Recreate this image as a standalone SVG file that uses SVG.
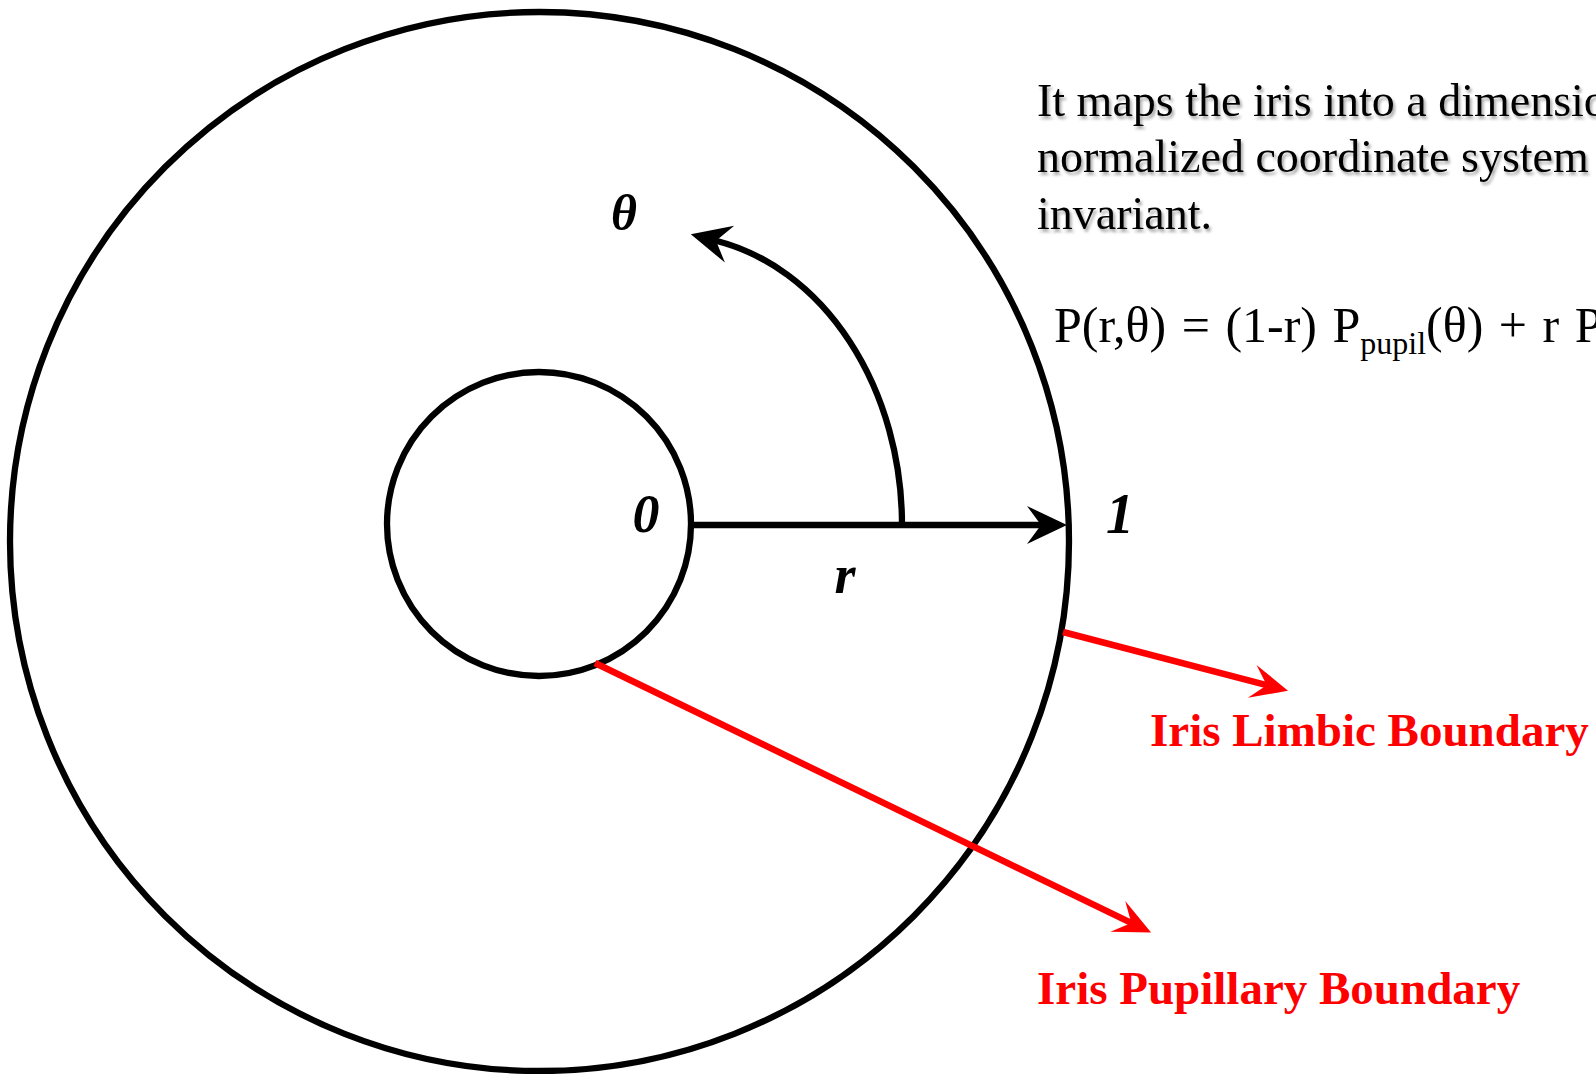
<svg xmlns="http://www.w3.org/2000/svg" width="1596" height="1074" viewBox="0 0 1596 1074">
<style>
.ring{fill:none;stroke:#000;stroke-width:6.3}
.blk{fill:none;stroke:#000;stroke-width:6.3}
.red{fill:none;stroke:#ff0000;stroke-width:6.5}
.lab{font-family:"Liberation Serif","Times New Roman",serif;font-style:italic;font-weight:bold;fill:#000;text-anchor:middle}
.desc{font-family:"Liberation Serif","Times New Roman",serif;font-size:46px;fill:#000}
.eq{font-family:"Liberation Serif","Times New Roman",serif;font-size:50px;fill:#000;word-spacing:3px}
.rl{font-family:"Liberation Serif","Times New Roman",serif;font-weight:bold;font-size:47px;fill:#ff0000}
</style>
<defs>
<marker id="ahB" viewBox="-42 -21 44 42" markerUnits="userSpaceOnUse" markerWidth="44" markerHeight="42" refX="-26" refY="0" orient="auto">
<path d="M0,0 L-40,-19 L-26,0 L-40,19 Z" fill="#000"/>
</marker>
<marker id="ahR" viewBox="-40 -20 42 40" markerUnits="userSpaceOnUse" markerWidth="42" markerHeight="40" refX="-21" refY="0" orient="auto">
<path d="M0,0 L-37,-17 L-22,0 L-37,17 Z" fill="#ff0000"/>
</marker>
<filter id="sh" x="-5%" y="-20%" width="110%" height="160%">
<feDropShadow dx="2" dy="3" stdDeviation="1.5" flood-color="#000" flood-opacity="0.35"/>
</filter>
</defs>
<rect width="1596" height="1074" fill="#fff"/>
<g id="outer-circle"><circle class="ring" cx="539.5" cy="541.5" r="529.5"/></g>
<g id="inner-circle"><circle class="ring" cx="539" cy="524" r="152"/></g>
<g id="connectors">
<line class="blk" x1="691" y1="525" x2="1041" y2="525" marker-end="url(#ahB)"/>
<path class="blk" d="M902,525 A232,290 0 0 0 716,240.7" marker-end="url(#ahB)"/>
<line class="red" x1="1063" y1="632" x2="1267.7" y2="685.4" marker-end="url(#ahR)"/>
<line class="red" x1="595" y1="663" x2="1132.2" y2="923.4" marker-end="url(#ahR)"/>
</g>
<g id="label-theta"><text class="lab" x="624" y="230" font-size="50">θ</text></g>
<g id="label-0"><text class="lab" x="646" y="532" font-size="54">0</text></g>
<g id="label-1"><text class="lab" x="1120" y="533" font-size="56">1</text></g>
<g id="label-r"><text class="lab" x="845" y="593" font-size="54">r</text></g>
<g id="description" filter="url(#sh)">
<text class="desc" x="1037" y="116">It maps the iris into a dimensio</text>
<text class="desc" x="1037" y="172">normalized coordinate system</text>
<text class="desc" x="1037" y="229">invariant.</text>
</g>
<g id="formula"><text class="eq" x="1054" y="342">P(r,θ) = (1-r) P<tspan font-size="32" dy="12">pupil</tspan><tspan dy="-12">(θ) + r P</tspan></text></g>
<g id="limbic-label"><text class="rl" x="1150" y="746">Iris Limbic Boundary</text></g>
<g id="pupillary-label"><text class="rl" x="1037" y="1004">Iris Pupillary Boundary</text></g>
</svg>
